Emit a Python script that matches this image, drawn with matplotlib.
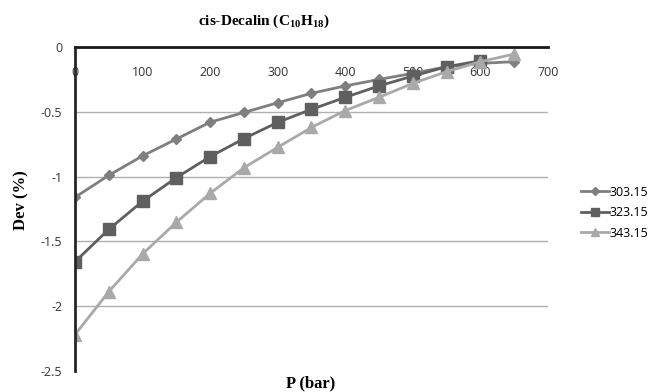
import numpy as np
import matplotlib.pyplot as plt

plt.rcParams['mathtext.fontset'] = 'custom'
plt.rcParams['mathtext.rm'] = 'Liberation Serif:bold'
plt.rcParams['mathtext.it'] = 'Liberation Serif:bold'
plt.rcParams['mathtext.bf'] = 'Liberation Serif:bold'

pressure = [0, 50, 100, 150, 200, 250, 300, 350, 400, 450, 500, 550, 600, 650]
dev_303 = [-1.16, -0.99, -0.84, -0.71, -0.58, -0.505, -0.43, -0.357, -0.30,
           -0.25, -0.203, -0.152, -0.126, -0.113]
dev_323 = [-1.657, -1.407, -1.19, -1.008, -0.846, -0.707, -0.581, -0.481,
           -0.388, -0.30, -0.224, -0.152, -0.106]
dev_343 = [-2.22, -1.888, -1.597, -1.352, -1.129, -0.931, -0.774, -0.62,
           -0.49, -0.388, -0.28, -0.19, -0.113, -0.054]
labels = ["303.15", "323.15", "343.15"]

fig = plt.figure(figsize=(6.55, 3.92), dpi=100)
ax = fig.add_axes([0.1145, 0.0536, 0.7221, 0.8264])

ax.plot(pressure, dev_303, color="#7f7f7f", lw=2, marker="D", ms=5,
        label=labels[0])
ax.plot(pressure[:len(dev_323)], dev_323, color="#5f5f5f", lw=2, marker="s",
        ms=8, label=labels[1])
ax.plot(pressure, dev_343, color="#a9a9a9", lw=2, marker="^", ms=8,
        label=labels[2])

ax.set_xlim(0, 700)
ax.set_ylim(-2.5, 0)
ax.set_xticks(np.arange(0, 701, 100))
ax.set_yticks([0, -0.5, -1, -1.5, -2, -2.5])
ax.set_yticklabels(["0", "-0.5", "-1", "-1.5", "-2", "-2.5"])

for y in [-0.5, -1, -1.5, -2]:
    ax.axhline(y, color="#b0b0b0", lw=1, zorder=0)

ax.spines['bottom'].set_position(('data', 0))
ax.spines['bottom'].set_linewidth(2)
ax.spines['bottom'].set_color("#1a1a1a")
ax.spines['left'].set_linewidth(2)
ax.spines['left'].set_color("#262626")
ax.spines['top'].set_visible(False)
ax.spines['right'].set_visible(False)
ax.tick_params(axis='x', length=0, pad=14, labelsize=9, labelcolor="#333333")
ax.tick_params(axis='y', length=0, pad=9, labelsize=9, labelcolor="#333333")
for t in ax.get_xticklabels() + ax.get_yticklabels():
    t.set_fontfamily("Open Sans")

fig.text(0.402, 0.945, r"cis-Decalin (C$_{10}$H$_{18}$)", ha="center",
         va="center", fontsize=11, fontweight="bold",
         family="Liberation Serif")
fig.text(0.032, 0.49, "Dev (%)", rotation=90, ha="center", va="center",
         fontsize=12, fontweight="bold", family="Liberation Serif")
fig.text(0.475, 0.022, "P (bar)", ha="center", va="center",
         fontsize=12, fontweight="bold", family="Liberation Serif")

fig.legend(loc="center left", bbox_to_anchor=(0.87, 0.457), frameon=False,
           prop={"family": "Open Sans", "size": 9}, handlelength=2.2,
           labelspacing=0.6, handletextpad=0.1, markerscale=0.8)

fig.savefig("out.png", dpi=100)
